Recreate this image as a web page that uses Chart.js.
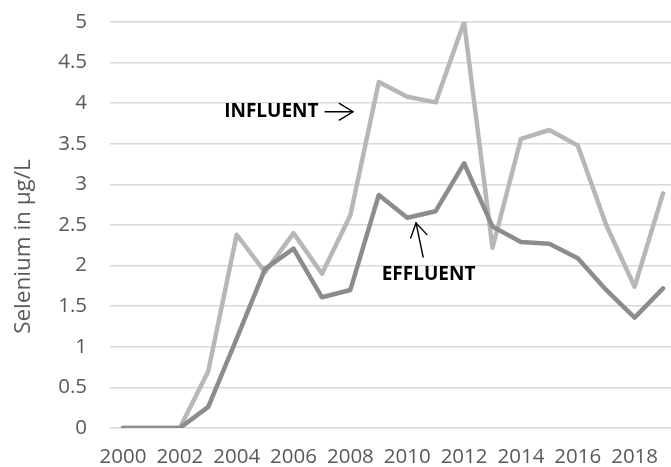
<!DOCTYPE html>
<html>
<head>
<meta charset="utf-8">
<script src="https://cdn.jsdelivr.net/npm/chart.js@4/dist/chart.umd.min.js"></script>
<style>
  html, body { margin: 0; padding: 0; background: #ffffff; }
  #wrap { width: 671px; height: 467px; }
</style>
</head>
<body>
<div id="wrap"><canvas id="c" width="671" height="467"></canvas></div>
<script>
// ---- data ----
const years = [2000, 2001, 2002, 2003, 2004, 2005, 2006, 2007, 2008, 2009, 2010, 2011, 2012, 2013, 2014, 2015, 2016, 2017, 2018, 2019];
const influent = [0, 0, 0, 0.7, 2.38, 1.92, 2.4, 1.9, 2.62, 4.26, 4.08, 4.01, 5.0, 2.22, 3.56, 3.67, 3.48, 2.5, 1.74, 2.89];
const effluent = [0, 0, 0, 0.26, 1.1, 1.96, 2.21, 1.61, 1.7, 2.87, 2.59, 2.67, 3.26, 2.48, 2.29, 2.27, 2.09, 1.7, 1.36, 1.72];
const xTickLabels = [2000, 2002, 2004, 2006, 2008, 2010, 2012, 2014, 2016, 2018];
const yTickLabels = [0, 0.5, 1, 1.5, 2, 2.5, 3, 3.5, 4, 4.5, 5];
const yTitle = 'Selenium in µg/L';
const influentLabel = 'INFLUENT';
const effluentLabel = 'EFFLUENT';

// ---- annotation placement (data units) ----
const notes = {
  yTitleCenter: 2.235,
  influentText: { x: 2005.22, y: 3.9 },
  influentArrow: { from: { x: 2007.11, y: 3.895 }, to: { x: 2008.09, y: 3.895 } },
  effluentText: { x: 2010.75, y: 1.893 },
  effluentArrow: { from: { x: 2010.56, y: 2.106 }, to: { x: 2010.31, y: 2.525 } }
};

const annotPlugin = {
  id: 'annot',
  afterDatasetsDraw(chart) {
    const { ctx, scales } = chart;
    const xs = scales.x, ys = scales.y;
    const px = p => ({ x: xs.getPixelForValue(p.x), y: ys.getPixelForValue(p.y) });
    ctx.save();

    // y-axis title
    ctx.save();
    ctx.translate(24, ys.getPixelForValue(notes.yTitleCenter));
    ctx.rotate(-Math.PI / 2);
    ctx.fillStyle = '#595959';
    ctx.font = '22.5px "Open Sans"';
    ctx.textAlign = 'center';
    ctx.textBaseline = 'middle';
    ctx.fillText(yTitle, 0, 0);
    ctx.restore();

    ctx.fillStyle = '#000000';
    ctx.font = 'bold 19px "Open Sans"';
    ctx.textAlign = 'center';
    ctx.textBaseline = 'middle';
    let p = px(notes.influentText);
    ctx.fillText(influentLabel, p.x, p.y);
    p = px(notes.effluentText);
    ctx.fillText(effluentLabel, p.x, p.y);

    function arrow(a) {
      const s = px(a.from), t = px(a.to);
      const ang = Math.atan2(t.y - s.y, t.x - s.x);
      const hl = 16, ha = 0.55;
      ctx.strokeStyle = '#000000';
      ctx.lineWidth = 1.4;
      ctx.lineCap = 'round';
      ctx.lineJoin = 'miter';
      ctx.beginPath();
      ctx.moveTo(s.x, s.y);
      ctx.lineTo(t.x, t.y);
      ctx.stroke();
      ctx.beginPath();
      ctx.moveTo(t.x - hl * Math.cos(ang - ha), t.y - hl * Math.sin(ang - ha));
      ctx.lineTo(t.x, t.y);
      ctx.lineTo(t.x - hl * Math.cos(ang + ha), t.y - hl * Math.sin(ang + ha));
      ctx.stroke();
    }
    arrow(notes.influentArrow);
    arrow(notes.effluentArrow);
    ctx.restore();
  }
};

const toPts = arr => years.map((y, i) => ({ x: y, y: arr[i] }));

new Chart(document.getElementById('c'), {
  type: 'line',
  data: {
    datasets: [
      {
        label: 'Effluent',
        data: toPts(effluent),
        borderColor: '#8c8c8c',
        borderWidth: 4.5,
        pointRadius: 0,
        tension: 0,
        borderJoinStyle: 'round',
        borderCapStyle: 'round',
        order: 0
      },
      {
        label: 'Influent',
        data: toPts(influent),
        borderColor: '#b7b7b7',
        borderWidth: 4.5,
        pointRadius: 0,
        tension: 0,
        borderJoinStyle: 'round',
        borderCapStyle: 'round',
        order: 1
      }
    ]
  },
  options: {
    responsive: false,
    animation: false,
    devicePixelRatio: 1,
    layout: { padding: { top: 22, left: 0, right: 0, bottom: 0 } },
    plugins: { legend: { display: false }, tooltip: { enabled: false } },
    scales: {
      x: {
        type: 'linear',
        min: 1999.543,
        max: 2019.28,
        afterBuildTicks: s => { s.ticks = xTickLabels.map(v => ({ value: v })); },
        afterFit: s => { s.height = 467 - 428; s.paddingLeft = 0; s.paddingRight = 0; },
        grid: { display: false, drawTicks: false },
        border: { display: false },
        ticks: {
          autoSkip: false,
          maxRotation: 0,
          padding: 17,
          color: '#595959',
          font: { family: '"Open Sans"', size: 20.5 },
          callback: v => String(v)
        }
      },
      y: {
        min: 0,
        max: 5,
        afterBuildTicks: s => { s.ticks = yTickLabels.map(v => ({ value: v })); },
        afterFit: s => { s.width = 110; s.paddingTop = 0; s.paddingBottom = 0; },
        grid: { color: '#d9d9d9', lineWidth: 1.5, drawTicks: false },
        border: { display: false },
        ticks: {
          padding: 23,
          color: '#595959',
          font: { family: '"Open Sans"', size: 20.5 },
          callback: v => String(v)
        },
        title: { display: false }
      }
    }
  },
  plugins: [annotPlugin]
});
</script>
</body>
</html>
